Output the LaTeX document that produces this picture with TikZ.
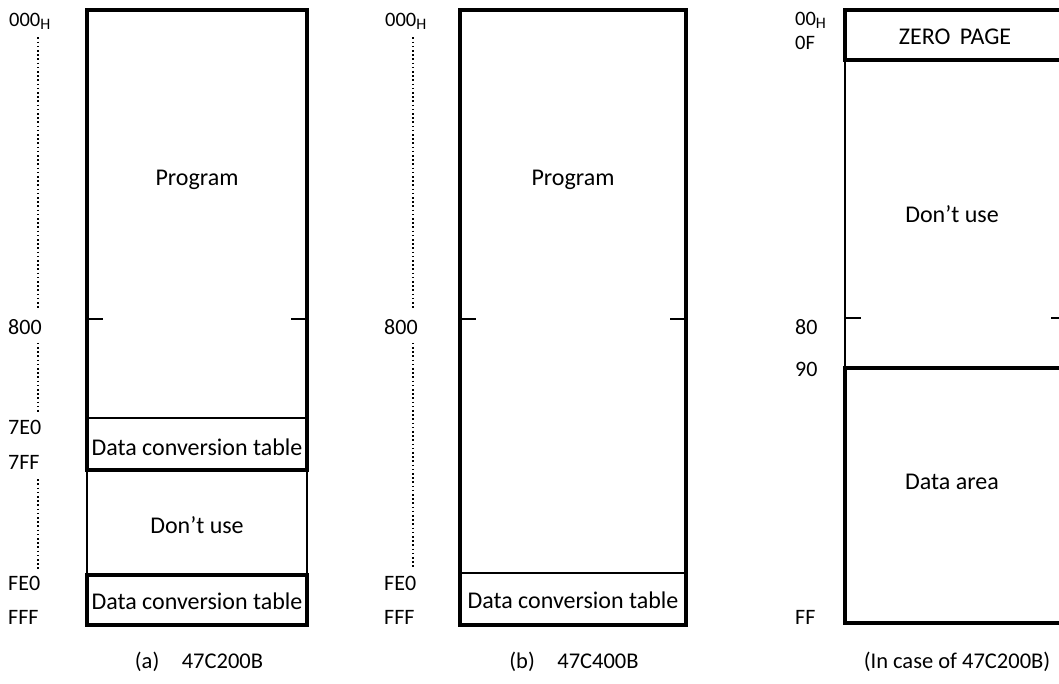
\documentclass[tikz,border=0pt]{standalone}
\usepackage{fontspec}
\setmainfont{Carlito}
\usetikzlibrary{positioning}
\tikzset{
    thickline/.style={line width=4.2pt, line join=miter, line cap=rect}, % outer frames
    thinline/.style={line width=1.6pt}, % inner borders and ticks
    memtext/.style={font=\fontsize{24}{28}\selectfont, inner sep=0pt}, % text inside a region
    addr/.style={anchor=west, inner sep=0pt, font=\fontsize{22}{26}\selectfont}, % address labels
    topaddr/.style={addr, font=\fontsize{20.5}{24}\selectfont},
    addrdots/.style={dash pattern=on 1.6pt off 2.6pt, line width=1.8pt}, % dotted line between addresses
    caption/.style={font=\fontsize{22.5}{26}\selectfont, inner sep=0pt},
}
\newcommand{\hexsub}{\textsubscript{\fontsize{16}{18}\selectfont H}}

\begin{document}
\begin{tikzpicture}[x=1pt,y=-1pt]
    \useasboundingbox (0,0) rectangle (1059,684);

    % (a) 47C200B
    \draw[thickline] (87,470) -- (87,10) -- (307,10) -- (307,470) -- cycle;
    \draw[thinline] (87,418) -- (307,418);
    \draw[thinline] (87,470) -- (87,575) (307,470) -- (307,575);
    \draw[thickline] (87,575) rectangle (307,625);
    \draw[thinline] (87,319) -- +(16,0) (307,319) -- +(-16,0);

    \node[memtext] (aprog) at (197,180) {Program};
    \node[memtext] (atab1) at (197,447) {Data conversion table};
    \node[memtext] (anouse) at (197,525) {Don’t use};
    \node[memtext] (atab2) at (197,601) {Data conversion table};

    \node[topaddr] (a000) at (9,21) {000\hexsub};
    \node[addr] (a800) at (8,327) {800};
    \node[addr] (a7e0) at (8,427) {7E0};
    \node[addr] (a7ff) at (8,462) {7FF};
    \node[addr] (afe0) at (8,583) {FE0};
    \node[addr] (afff) at (8,617) {FFF};
    \coordinate (adots) at (38,0);
    \draw[addrdots] ([yshift=-8pt]a000.south -| adots) -- ([yshift=10pt]a800.north -| adots);
    \draw[addrdots] ([yshift=-8pt]a800.south -| adots) -- ([yshift=6pt]a7e0.north -| adots);
    \draw[addrdots] ([yshift=-10pt]a7ff.south -| adots) -- ([yshift=6pt]afe0.north -| adots);

    \node[caption] (acap) at (199,662) {(a)\quad 47C200B};

    % (b) 47C400B
    \draw[thickline] (460,10) rectangle (686,625);
    \draw[thinline] (460,573) -- (686,573);
    \draw[thinline] (460,319) -- +(16,0) (686,319) -- +(-16,0);

    \node[memtext] (bprog) at (573,180) {Program};
    \node[memtext] (btab) at (573,600) {Data conversion table};

    \node[topaddr] (b000) at (385,21) {000\hexsub};
    \node[addr] (b800) at (384,327) {800};
    \node[addr] (bfe0) at (384,583) {FE0};
    \node[addr] (bfff) at (384,617) {FFF};
    \coordinate (bdots) at (413,0);
    \draw[addrdots] ([yshift=-8pt]b000.south -| bdots) -- ([yshift=10pt]b800.north -| bdots);
    \draw[addrdots] ([yshift=-8pt]b800.south -| bdots) -- ([yshift=6pt]bfe0.north -| bdots);

    \node[caption] (bcap) at (574,662) {(b)\quad 47C400B};

    % zero page area
    \draw[thickline] (845,10) rectangle (1067,60);
    \draw[thinline] (845,60) -- (845,368) (1067,60) -- (1067,368);
    \draw[thickline] (845,368) rectangle (1067,623);
    \draw[thinline] (845,318) -- +(16,0) (1067,318) -- +(-16,0);

    \node[memtext] (czero) at (955,37) {ZERO\, PAGE};
    \node[memtext] (cnouse) at (952,214) {Don’t use};
    \node[memtext] (cdata) at (952,482) {Data area};

    \node[topaddr] (c00) at (795,20) {00\hexsub};
    \node[topaddr] (c0f) at (795,43) {0F};
    \node[addr] (c80) at (795,327) {80};
    \node[addr] (c90) at (795,369) {90};
    \node[addr] (cff) at (795,617) {FF};

    \node[caption] (ccap) at (957,662) {(In case of 47C200B)};
\end{tikzpicture}
\end{document}
